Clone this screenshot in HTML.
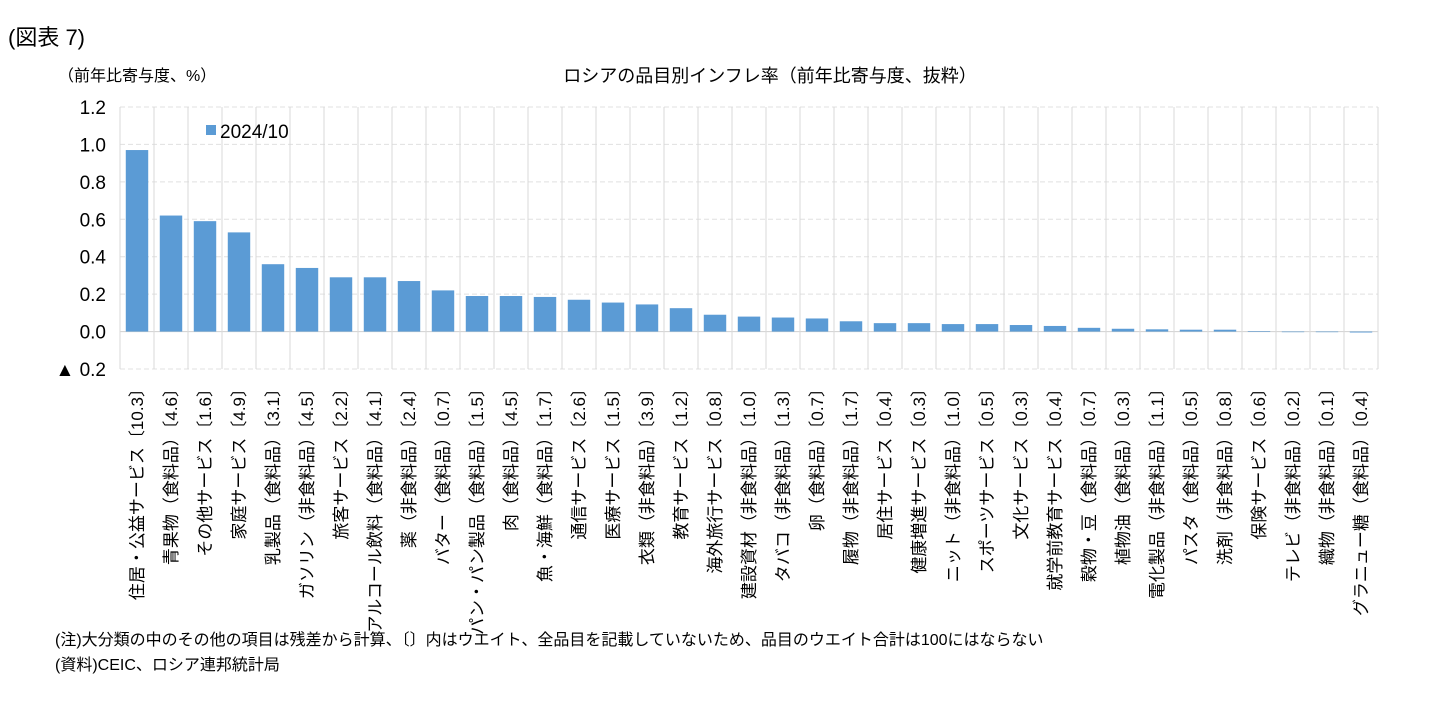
<!DOCTYPE html>
<html><head><meta charset="utf-8"><style>
body{margin:0;background:#fff;font-family:"Liberation Sans","Noto Sans CJK JP",sans-serif;}
svg text{font-family:"Liberation Sans","Noto Sans CJK JP",sans-serif;fill:#000;}
</style></head><body>
<svg id="c" width="1429" height="697" xmlns="http://www.w3.org/2000/svg">
<text x="8" y="45" font-size="22" font-family="Liberation Serif,Noto Serif CJK SC,serif">(図表 7)</text>
<text x="58" y="81" font-size="16">（前年比寄与度、%）</text>
<text x="770" y="82" font-size="18" text-anchor="middle">ロシアの品目別インフレ率（前年比寄与度、抜粋）</text>
<g id="grid"></g><g id="bars"></g><g id="yt"></g><g id="xt"></g>
<rect x="206" y="125" width="10" height="10" fill="#5b9bd5"/>
<text x="220" y="138" font-size="19">2024/10</text>
<text x="55" y="645" font-size="16">(注)大分類の中のその他の項目は残差から計算、〔〕内はウエイト、全品目を記載していないため、品目のウエイト合計は100にはならない</text>
<text x="55" y="670" font-size="16">(資料)CEIC、ロシア連邦統計局</text>
</svg>
<script>
const categories=["住居・公益サービス〔10.3〕","青果物（食料品）〔4.6〕","その他サービス〔1.6〕","家庭サービス〔4.9〕","乳製品（食料品）〔3.1〕","ガソリン（非食料品）〔4.5〕","旅客サービス〔2.2〕","アルコール飲料（食料品）〔4.1〕","薬（非食料品）〔2.4〕","バター（食料品）〔0.7〕","パン・パン製品（食料品）〔1.5〕","肉（食料品）〔4.5〕","魚・海鮮（食料品）〔1.7〕","通信サービス〔2.6〕","医療サービス〔1.5〕","衣類（非食料品）〔3.9〕","教育サービス〔1.2〕","海外旅行サービス〔0.8〕","建設資材（非食料品）〔1.0〕","タバコ（非食料品）〔1.3〕","卵（食料品）〔0.7〕","履物（非食料品）〔1.7〕","居住サービス〔0.4〕","健康増進サービス〔0.3〕","ニット（非食料品）〔1.0〕","スポーツサービス〔0.5〕","文化サービス〔0.3〕","就学前教育サービス〔0.4〕","穀物・豆（食料品）〔0.7〕","植物油（食料品）〔0.3〕","電化製品（非食料品）〔1.1〕","パスタ（食料品）〔0.5〕","洗剤（非食料品）〔0.8〕","保険サービス〔0.6〕","テレビ（非食料品）〔0.2〕","織物（非食料品）〔0.1〕","グラニュー糖（食料品）〔0.4〕"];
const values=[0.97,0.62,0.59,0.53,0.36,0.34,0.29,0.29,0.27,0.22,0.19,0.19,0.185,0.17,0.155,0.145,0.125,0.09,0.08,0.075,0.07,0.055,0.045,0.045,0.04,0.04,0.035,0.03,0.02,0.015,0.012,0.01,0.01,0.003,0,0,-0.005];
const yTicks=[1.2,1.0,0.8,0.6,0.4,0.2,0.0,-0.2];
const yTickLabels=["1.2","1.0","0.8","0.6","0.4","0.2","0.0","▲ 0.2"];
const NS="http://www.w3.org/2000/svg";
const L=120,R=1378,T=107,B=369,ymin=-0.2,ymax=1.2;
const n=categories.length, bw=(R-L)/n;
const y=v=>B-(v-ymin)/(ymax-ymin)*(B-T);
const x=i=>L+i*bw;
function mk(t,p,parent){const e=document.createElementNS(NS,t);for(const k in p)e.setAttribute(k,p[k]);document.getElementById(parent).appendChild(e);return e;}
yTicks.forEach((v,i)=>{
 const g=mk('line',{x1:L,x2:R,y1:y(v),y2:y(v),stroke:v===0?'#d0d0d0':'#e0e0e0','stroke-dasharray':v===0?'':'5,3','stroke-width':1},'grid');
 
 
 const t=mk('text',{x:106,y:y(v)+7,'font-size':19,'text-anchor':'end'},'yt');
 t.textContent=yTickLabels[i];
 
 
});
for(let i=0;i<=n;i++){
 const g=mk('line',{x1:x(i),x2:x(i),y1:T,y2:B,stroke:'#d9d9d9','stroke-width':1},'grid');
 
 
}
const bwid=bw*0.66;
values.forEach((v,i)=>{
 const y0=y(0),y1=y(v);
 const r=mk('rect',{x:x(i)+(bw-bwid)/2,y:Math.min(y0,y1),width:bwid,height:Math.max(Math.abs(y1-y0),0.6),fill:'#5b9bd5'},'bars');
 
 
});
categories.forEach((c,i)=>{
 const cx=x(i)+bw/2+6;
 const t=mk('text',{x:cx,y:380,'font-size':17,'text-anchor':'end',transform:`rotate(-90 ${cx} 380)`},'xt');
 t.setAttribute('x',cx);t.setAttribute('y',380);
 t.textContent=c;
 
 
});
</script>
</body></html>
